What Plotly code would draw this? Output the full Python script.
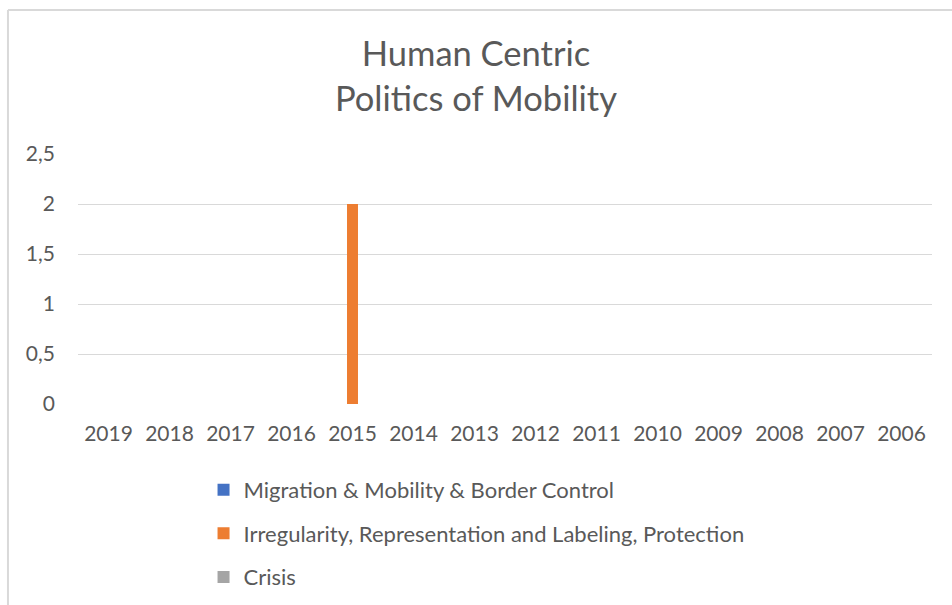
import plotly.graph_objects as go

# Publication counts per year for each theme
years = ["2019", "2018", "2017", "2016", "2015", "2014", "2013",
         "2012", "2011", "2010", "2009", "2008", "2007", "2006"]
migration_border = [0, 0, 0, 0, 0, 0, 0, 0, 0, 0, 0, 0, 0, 0]
irregularity_protection = [0, 0, 0, 0, 2, 0, 0, 0, 0, 0, 0, 0, 0, 0]
crisis = [0, 0, 0, 0, 0, 0, 0, 0, 0, 0, 0, 0, 0, 0]

series_names = [
    "Migration & Mobility & Border Control",
    "Irregularity, Representation and Labeling, Protection",
    "Crisis",
]
series_values = [migration_border, irregularity_protection, crisis]
series_colors = ["#4472C4", "#ED7D31", "#A5A5A5"]

TEXT = "#595959"
GRID = "#D9D9D9"
FONT = "Lato, 'Open Sans', sans-serif"

fig = go.Figure()
for i, (name, vals, col) in enumerate(zip(series_names, series_values, series_colors)):
    fig.add_trace(go.Bar(
        x=years, y=vals, name=name,
        marker=dict(color=col, line=dict(width=0)),
        legendgroup=f"g{i}",
    ))

fig.update_layout(
    width=952, height=605,
    paper_bgcolor="white", plot_bgcolor="white",
    margin=dict(l=78, r=20, t=154, b=201, autoexpand=False),
    barmode="group", bargap=0.46, bargroupgap=0,
    font=dict(family=FONT, color=TEXT, size=20),
    title=dict(
        text="Human Centric<br>Politics of Mobility",
        x=0.5, xanchor="center", xref="container",
        y=0.891, yanchor="middle", yref="container",
        font=dict(family=FONT, size=34.5, color=TEXT),
    ),
    showlegend=True,
    legend=dict(
        orientation="v",
        x=0.147, xanchor="left",
        y=0.225, yanchor="top", yref="container",
        font=dict(family=FONT, size=22, color=TEXT),
        tracegroupgap=12,
        bgcolor="rgba(0,0,0,0)",
        itemclick=False, itemdoubleclick=False,
    ),
    xaxis=dict(
        type="category", showgrid=False, zeroline=False, showline=False,
        ticks="", tickfont=dict(size=21, color=TEXT), ticklabelstandoff=15,
    ),
    yaxis=dict(
        range=[0, 2.5], dtick=0.5, tickformat=".1~f",
        showgrid=True, gridcolor=GRID, gridwidth=1,
        zeroline=False, showline=False, ticks="",
        tickfont=dict(size=21, color=TEXT), ticklabelstandoff=22,
    ),
    separators=", ",
    shapes=[
        # chart area frame (left and top edges visible)
        dict(type="line", xref="paper", yref="paper",
             x0=-0.082, x1=1.2, y0=1.576, y1=1.576,
             line=dict(color=GRID, width=2)),
        dict(type="line", xref="paper", yref="paper",
             x0=-0.082, x1=-0.082, y0=1.576, y1=-1.0,
             line=dict(color=GRID, width=2)),
    ],
)

fig.write_html("out.html")
